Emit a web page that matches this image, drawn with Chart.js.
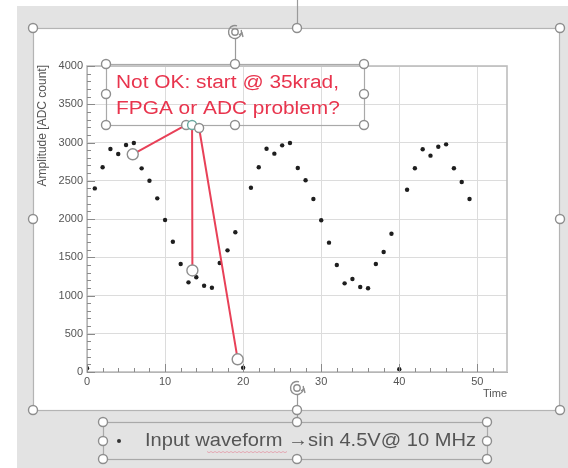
<!DOCTYPE html>
<html>
<head>
<meta charset="utf-8">
<script src="https://cdn.jsdelivr.net/npm/chart.js@4"></script>
<style>
  html, body { margin: 0; padding: 0; background: #fff; }
  canvas { display: block; }
</style>
</head>
<body>
<canvas id="chart" width="568" height="468"></canvas>
<script>
const sample_times = [0, 1, 2, 3, 4, 5, 6, 7, 8, 9, 10, 11, 12, 13, 14, 15, 16, 17, 18, 19,
    20, 21, 22, 23, 24, 25, 26, 27, 28, 29, 30, 31, 32, 33, 34, 35, 36, 37, 38, 39,
    40, 41, 42, 43, 44, 45, 46, 47, 48, 49]
const amplitudes = [50, 2400, 2676, 2915, 2850, 2967, 2993, 2662, 2500, 2270,
    1987, 1703, 1412, 1172, 1238, 1128, 1102, 1425, 1590, 1826,
    56, 2409, 2676, 2919, 2854, 2963, 2993, 2667, 2506, 2261,
    1983, 1691, 1398, 1159, 1216, 1111, 1094, 1412, 1569, 1808,
    35, 2383, 2663, 2911, 2828, 2945, 2976, 2663, 2484, 2261]
const x_ticks = [0, 10, 20, 30, 40, 50]
const y_ticks = [0, 500, 1000, 1500, 2000, 2500, 3000, 3500, 4000]
const x_title = "Time"
const y_title = "Amplitude [ADC count]"
const note_lines = ["Not OK: start @ 35krad,", "FPGA or ADC problem?"]
const caption = "Input waveform \u2192sin 4.5V@ 10 MHz"
// red pointer lines, in (time, amplitude) units
const pointer_starts = [[12.7, 3229], [13.46, 3229], [14.36, 3190]]
const pointer_ends = [[5.86, 2846], [13.5, 1327], [19.3, 166]]

const font_family = "'Liberation Sans', Arial, sans-serif"

function handle(ctx, x, y, r, stroke) {
    ctx.beginPath()
    ctx.arc(x, y, r || 4.5, 0, Math.PI * 2)
    ctx.fillStyle = "#ffffff"
    ctx.fill()
    ctx.lineWidth = 1.4
    ctx.strokeStyle = stroke || "#8e8e8e"
    ctx.stroke()
}

function rotate_icon(ctx, x, y) {
    ctx.lineWidth = 1.4
    ctx.strokeStyle = "#8e8e8e"
    ctx.beginPath()
    ctx.arc(x, y, 6.5, -0.3, Math.PI * 1.6)
    ctx.stroke()
    ctx.beginPath()
    ctx.arc(x, y, 3.2, 0, Math.PI * 2)
    ctx.stroke()
    ctx.beginPath()
    ctx.moveTo(x + 4, y + 3)
    ctx.lineTo(x + 7, y + 1)
    ctx.lineTo(x + 8, y + 5)
    ctx.stroke()
}

function stretched_text(ctx, text, x, y, width) {
    const w = ctx.measureText(text).width
    ctx.save()
    ctx.translate(x, y)
    ctx.scale(width / w, 1)
    ctx.fillText(text, 0, 0)
    ctx.restore()
}

const slide_plugin = {
    id: "slide",
    beforeDraw(chart) {
        const ctx = chart.ctx
        ctx.save()
        ctx.fillStyle = "#ffffff"
        ctx.fillRect(0, 0, 568, 468)
        ctx.fillStyle = "#e3e3e3"
        ctx.fillRect(17, 6, 551, 462)
        ctx.fillStyle = "#ffffff"
        ctx.fillRect(33, 28, 527, 382)
        ctx.restore()
    },
    afterDraw(chart) {
        const ctx = chart.ctx
        const area = chart.chartArea
        const xs = chart.scales.x
        const ys = chart.scales.y
        ctx.save()

        // frame
        ctx.strokeStyle = "#bdbdbd"
        ctx.lineWidth = 1.6
        ctx.strokeRect(area.left, area.top, area.right - area.left, area.bottom - area.top)

        // minor and major ticks
        ctx.strokeStyle = "#8a8a8a"
        ctx.lineWidth = 1
        ctx.beginPath()
        for (let v = 0; v <= 4000; v += 100) {
            const py = Math.round(ys.getPixelForValue(v)) + 0.5
            const len = v % 500 === 0 ? 8 : 4
            ctx.moveTo(area.left, py)
            ctx.lineTo(area.left + len, py)
        }
        for (let v = 0; v <= 52; v += 2) {
            const px = Math.round(xs.getPixelForValue(v)) + 0.5
            const len = v % 10 === 0 ? 8 : 4
            ctx.moveTo(px, area.bottom)
            ctx.lineTo(px, area.bottom - len)
        }
        ctx.stroke()

        // axis titles
        ctx.fillStyle = "#555555"
        ctx.font = "11px " + font_family
        ctx.textAlign = "right"
        ctx.textBaseline = "top"
        ctx.fillText(x_title, area.right, 388)
        ctx.save()
        ctx.translate(43, area.top - 1)
        ctx.rotate(-Math.PI / 2)
        ctx.textBaseline = "middle"
        ctx.font = "12px " + font_family
        ctx.fillText(y_title, 0, 0)
        ctx.restore()

        // slide selection box
        ctx.strokeStyle = "#b4b4b4"
        ctx.lineWidth = 1.2
        ctx.strokeRect(33.5, 28.5, 526, 382)
        ctx.strokeStyle = "#9a9a9a"
        ctx.beginPath()
        ctx.moveTo(297.5, 0)
        ctx.lineTo(297.5, 28)
        ctx.moveTo(235.5, 38)
        ctx.lineTo(235.5, 64)
        ctx.moveTo(297.5, 394)
        ctx.lineTo(297.5, 422)
        ctx.stroke()
        rotate_icon(ctx, 235, 32)
        rotate_icon(ctx, 297, 388)
        const slide_handles = [[33, 28], [297, 28], [560, 28], [33, 219], [560, 219], [33, 410], [297, 410], [560, 410]]
        for (const [hx, hy] of slide_handles) handle(ctx, hx, hy)

        // red note box
        ctx.strokeStyle = "#a9a9a9"
        ctx.lineWidth = 1.2
        ctx.strokeRect(106.5, 64.5, 258, 61)
        ctx.fillStyle = "#e8344d"
        ctx.font = "18px " + font_family
        ctx.textAlign = "left"
        ctx.textBaseline = "middle"
        const w0 = ctx.measureText(note_lines[0]).width
        const w1 = ctx.measureText(note_lines[1]).width
        stretched_text(ctx, note_lines[0], 116, 83, 223)
        stretched_text(ctx, note_lines[1], 116, 109, 223 * w1 / w0)

        ctx.strokeStyle = "#e84158"
        ctx.lineWidth = 2
        ctx.beginPath()
        pointer_starts.forEach((s, i) => {
            const e = pointer_ends[i]
            ctx.moveTo(xs.getPixelForValue(s[0]), ys.getPixelForValue(s[1]))
            ctx.lineTo(xs.getPixelForValue(e[0]), ys.getPixelForValue(e[1]))
        })
        ctx.stroke()
        const note_handles = [[106, 64], [235, 64], [364, 64], [106, 94], [364, 94], [106, 125], [235, 125], [364, 125]]
        for (const [hx, hy] of note_handles) handle(ctx, hx, hy)
        pointer_starts.forEach((s, i) => {
            handle(ctx, xs.getPixelForValue(s[0]), ys.getPixelForValue(s[1]), 4.5, i === 1 ? "#6aa9a0" : "#8e8e8e")
        })
        for (const e of pointer_ends) {
            handle(ctx, xs.getPixelForValue(e[0]), ys.getPixelForValue(e[1]), 5.5)
        }

        // caption box
        ctx.strokeStyle = "#a9a9a9"
        ctx.lineWidth = 1.2
        ctx.strokeRect(103.5, 422.5, 384, 37)
        const caption_handles = [[103, 422], [297, 422], [487, 422], [103, 441], [487, 441], [103, 459], [297, 459], [487, 459]]
        for (const [hx, hy] of caption_handles) handle(ctx, hx, hy)
        ctx.fillStyle = "#333333"
        ctx.beginPath()
        ctx.arc(119, 441, 2, 0, Math.PI * 2)
        ctx.fill()
        ctx.fillStyle = "#555555"
        ctx.font = "19px " + font_family
        ctx.textBaseline = "middle"
        stretched_text(ctx, caption, 145, 441, 331)
        ctx.strokeStyle = "rgba(225, 120, 140, 0.55)"
        ctx.lineWidth = 1
        ctx.beginPath()
        for (let px = 207; px <= 288; px += 2) {
            const py = 451.5 + (((px - 207) / 2) % 2 === 0 ? 0 : 1.2)
            if (px === 207) ctx.moveTo(px, py)
            else ctx.lineTo(px, py)
        }
        ctx.stroke()

        ctx.restore()
    }
}

const tick_font = { family: font_family, size: 11 }

new Chart("chart", {
    type: "scatter",
    data: {
        datasets: [{
            data: sample_times.map((t, i) => ({ x: t, y: amplitudes[i] })),
            pointRadius: 2.2,
            pointBorderWidth: 0,
            pointBackgroundColor: "#1e1e1e",
            showLine: false
        }]
    },
    options: {
        responsive: false,
        animation: false,
        devicePixelRatio: 1,
        layout: {
            padding: { left: 40, top: 66, right: 61, bottom: 72 }
        },
        plugins: {
            legend: { display: false },
            tooltip: { enabled: false }
        },
        scales: {
            x: {
                type: "linear",
                min: 0,
                max: 53.8,
                afterBuildTicks: (scale) => {
                    scale.ticks = x_ticks.map((v) => ({ value: v }))
                },
                afterFit: (scale) => {
                    scale.height = 24
                },
                grid: { color: "#dcdcdc", drawTicks: false },
                border: { color: "#9a9a9a" },
                ticks: {
                    padding: 3,
                    color: "#555555",
                    font: tick_font,
                    callback: (value) => String(value)
                }
            },
            y: {
                type: "linear",
                min: 0,
                max: 4000,
                afterBuildTicks: (scale) => {
                    scale.ticks = y_ticks.map((v) => ({ value: v }))
                },
                afterFit: (scale) => {
                    scale.width = 47
                },
                grid: { color: "#dcdcdc", drawTicks: false },
                border: { color: "#9a9a9a" },
                ticks: {
                    padding: 4,
                    color: "#555555",
                    font: tick_font,
                    callback: (value) => String(value)
                }
            }
        }
    },
    plugins: [slide_plugin]
});
</script>
</body>
</html>
